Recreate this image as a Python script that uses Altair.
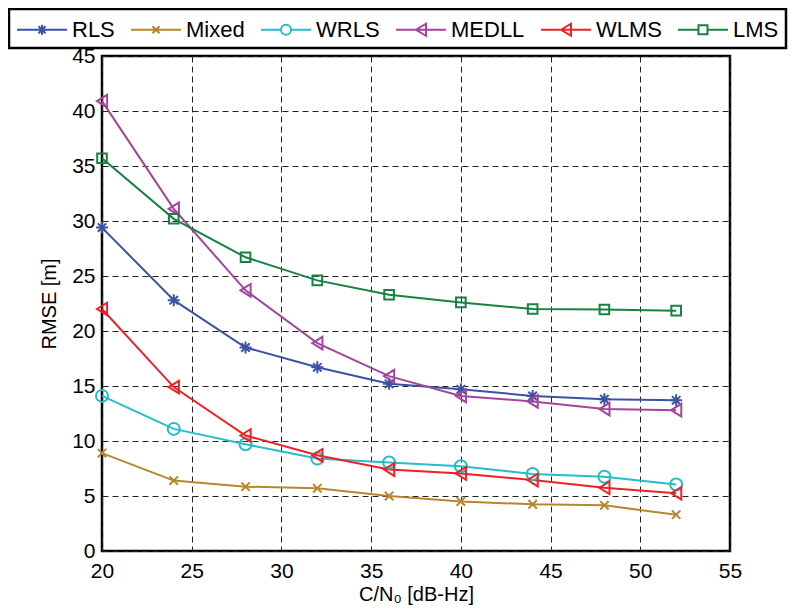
import altair as alt
import pandas as pd

# ---- data ----
cn0 = [20, 24, 28, 32, 36, 40, 44, 48, 52]
rls = [29.4, 22.8, 18.5, 16.7, 15.2, 14.7, 14.1, 13.8, 13.7]
mixed = [8.9, 6.4, 5.85, 5.7, 5.0, 4.5, 4.25, 4.15, 3.3]
wrls = [14.1, 11.1, 9.7, 8.4, 8.05, 7.7, 7.0, 6.75, 6.05]
medll = [40.9, 31.1, 23.7, 18.9, 15.9, 14.1, 13.6, 12.9, 12.8]
wlms = [22.0, 14.9, 10.5, 8.7, 7.4, 7.05, 6.45, 5.75, 5.25]
lms = [35.7, 30.2, 26.7, 24.6, 23.3, 22.6, 22.0, 21.95, 21.85]

series_names = ["RLS", "Mixed", "WRLS", "MEDLL", "WLMS", "LMS"]
series_values = [rls, mixed, wrls, medll, wlms, lms]

x_ticks = [20, 25, 30, 35, 40, 45, 50, 55]
y_ticks = [0, 5, 10, 15, 20, 25, 30, 35, 40, 45]

# ---- styles ----
colors = ["#3a53a4", "#b8862f", "#25bec6", "#a5449b", "#ee2128", "#168244"]

plot_shapes = [
    "M-1,0L1,0M0,-1L0,1M-0.7,-0.7L0.7,0.7M-0.7,0.7L0.7,-0.7",
    "M-0.7,-0.7L0.7,0.7M-0.7,0.7L0.7,-0.7",
    "M-1,0A1,1 0 1,0 1,0A1,1 0 1,0 -1,0",
    "M-0.85,0L0.85,-1.05L0.85,1.05Z",
    "M-0.85,0L0.85,-1.05L0.85,1.05Z",
    "M-0.8,-0.8L0.8,-0.8L0.8,0.8L-0.8,0.8Z",
]

LINE = "M-1,0L3,0"
legend_shapes = [
    LINE + "M0.6,0L1.4,0M1,-0.4L1,0.4M0.72,-0.28L1.28,0.28M0.72,0.28L1.28,-0.28",
    LINE + "M0.72,-0.28L1.28,0.28M0.72,0.28L1.28,-0.28",
    "M-1,0L0.6,0M1.4,0L3,0M0.6,0A0.4,0.4 0 1,0 1.4,0A0.4,0.4 0 1,0 0.6,0",
    LINE + "M0.6,0L1.4,-0.48L1.4,0.48Z",
    LINE + "M0.6,0L1.4,-0.48L1.4,0.48Z",
    "M-1,0L0.64,0M1.36,0L3,0M0.64,-0.36L1.36,-0.36L1.36,0.36L0.64,0.36Z",
]

rows = []
for name, vals in zip(series_names, series_values):
    for xv, yv in zip(cn0, vals):
        rows.append({"cn0": xv, "rmse": yv, "series": name})
df = pd.DataFrame(rows)

FONT = "Liberation Sans, Arial, Helvetica, sans-serif"

x_enc = alt.X(
    "cn0:Q",
    scale=alt.Scale(domain=[20, 55], nice=False, zero=False),
    axis=alt.Axis(values=x_ticks, title="C/N₀ [dB-Hz]", labelPadding=9, titlePadding=3, labelFlush=False),
)
y_enc = alt.Y(
    "rmse:Q",
    scale=alt.Scale(domain=[0, 45], nice=False),
    axis=alt.Axis(values=y_ticks, title="RMSE [m]", labelPadding=7, titlePadding=12, labelFlush=False),
)

color_scale = alt.Scale(domain=series_names, range=colors)

base = alt.Chart(df)

lines = base.mark_line(strokeWidth=2, opacity=1).encode(
    x=x_enc,
    y=y_enc,
    color=alt.Color("series:N", scale=color_scale, legend=None),
)

points = base.mark_point(filled=False, strokeWidth=2, size=144, opacity=1).encode(
    x=x_enc,
    y=y_enc,
    color=alt.Color("series:N", scale=color_scale, legend=None),
    shape=alt.Shape("series:N", scale=alt.Scale(domain=series_names, range=plot_shapes), legend=None),
)

legend_def = alt.Legend(
    title=None,
    orient="none",
    legendX=-93,
    legendY=-47,
    direction="horizontal",
    symbolSize=625,
    symbolStrokeWidth=2,
    symbolOpacity=1,
    labelFontSize=22,
    labelFont=FONT,
    labelColor="black",
    labelOffset=29,
    columnPadding=12,
    padding=7,
    strokeColor="black",
)

legend_layer = base.transform_filter("false").mark_point(
    filled=False, strokeWidth=2, size=625, opacity=1
).encode(
    x=x_enc,
    y=y_enc,
    color=alt.Color("series:N", scale=color_scale, legend=legend_def),
    shape=alt.Shape("series:N", scale=alt.Scale(domain=series_names, range=legend_shapes), legend=legend_def),
)

chart = (
    alt.layer(lines, points, legend_layer)
    .resolve_scale(color="independent", shape="independent")
    .properties(
        width=628,
        height=495,
        padding={"left": 94, "top": 48, "right": 59, "bottom": 54},
        autosize=alt.AutoSizeParams(type="none"),
    )
    .configure_view(stroke="black", strokeWidth=2.5)
    .configure_axis(
        labelFont=FONT,
        labelFontSize=21,
        labelColor="black",
        titleFont=FONT,
        titleFontSize=20,
        titleFontWeight="normal",
        titleColor="black",
        grid=True,
        gridColor="#222222",
        gridDash=[6, 4],
        gridWidth=1,
        gridOpacity=1,
        domain=False,
        ticks=False,
    )
    .configure_legend(strokeWidth=2.5)
)

chart.save("out.html", embed_options={"renderer": "svg", "actions": False})
